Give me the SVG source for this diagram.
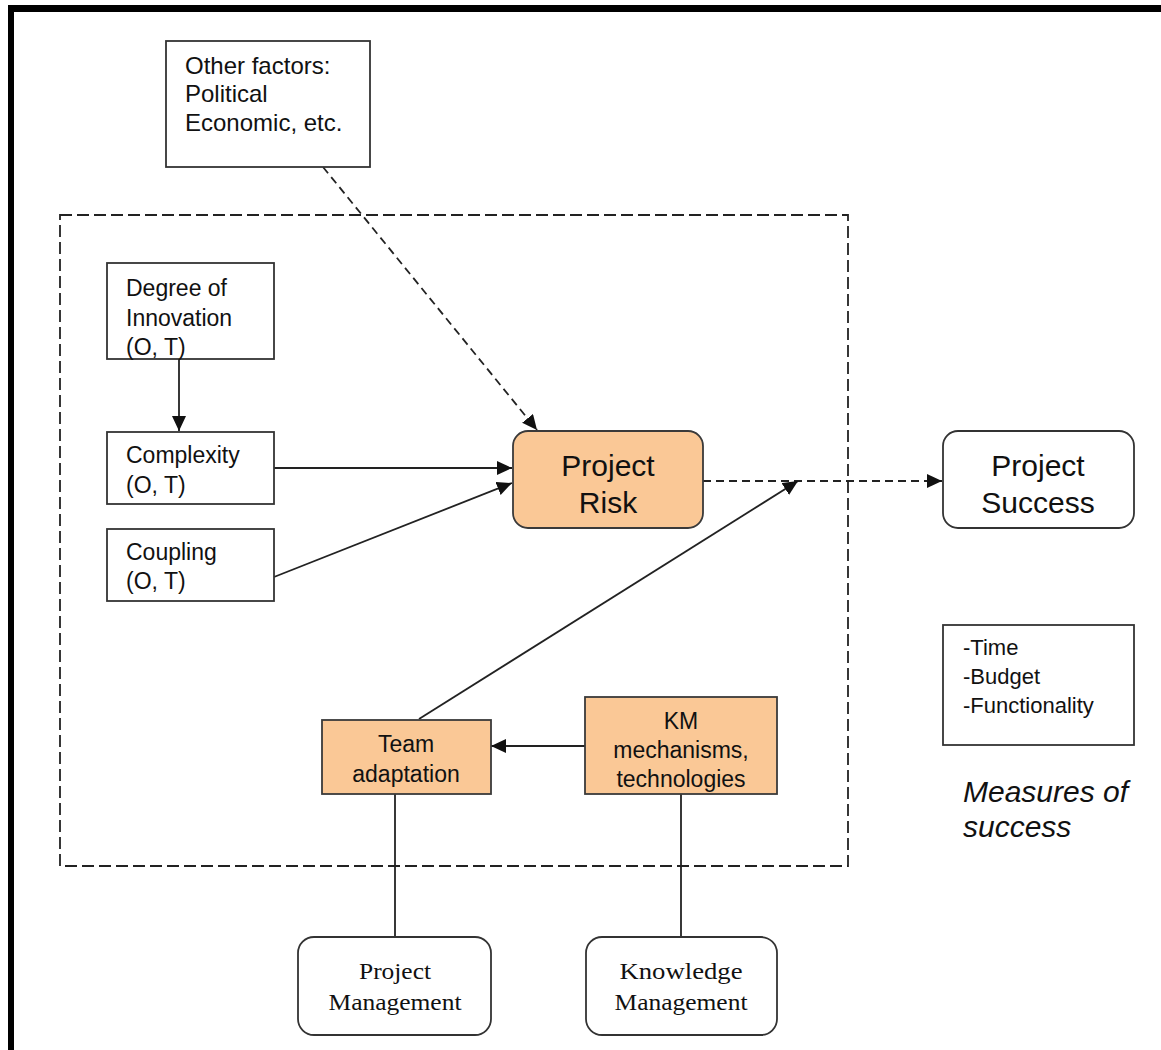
<svg xmlns="http://www.w3.org/2000/svg" width="1161" height="1050" viewBox="0 0 1161 1050">
  <style>
    .box { fill: #ffffff; stroke: #333333; stroke-width: 1.8; }
    .hot { fill: #FAC896; stroke: #3a3a3a; stroke-width: 1.8; }
    .sans { font-family: "Liberation Sans", Arial, sans-serif; fill: #111111; }
    .serif { font-family: "Liberation Serif", "Times New Roman", serif; fill: #111111; }
    .edge { fill: none; stroke: #222222; stroke-width: 1.8; }
    .dash { stroke-dasharray: 8 5; }
    .frame { fill: none; stroke: #222222; stroke-width: 1.8; stroke-dasharray: 12 5; }
  </style>
  <defs>
    <marker id="arrow" markerUnits="userSpaceOnUse" markerWidth="16" markerHeight="15" refX="15" refY="7" orient="auto">
      <path d="M0,0 L15,7 L0,14 z" fill="#111111"/>
    </marker>
  </defs>

  <rect width="1161" height="1050" fill="#ffffff"/>

  <!-- page border (top and left) -->
  <rect x="8" y="5" width="1153" height="7" fill="#000000"/>
  <rect x="8" y="5" width="6" height="1045" fill="#000000"/>

  <!-- boundary of the project context -->
  <g id="context-boundary">
    <rect class="frame" x="60" y="215" width="788" height="651"/>
  </g>

  <g id="connectors">
    <line class="edge dash" x1="323" y1="167" x2="537" y2="430" marker-end="url(#arrow)"/>
    <line class="edge" x1="179" y1="359" x2="179" y2="431" marker-end="url(#arrow)"/>
    <line class="edge" x1="274" y1="468" x2="512" y2="468" marker-end="url(#arrow)"/>
    <line class="edge" x1="274" y1="577" x2="512" y2="483" marker-end="url(#arrow)"/>
    <line class="edge dash" x1="703" y1="481" x2="942" y2="481" marker-end="url(#arrow)"/>
    <line class="edge" x1="419" y1="719" x2="798" y2="481" marker-end="url(#arrow)"/>
    <line class="edge" x1="585" y1="746" x2="491" y2="746" marker-end="url(#arrow)"/>
    <line class="edge" x1="395" y1="794" x2="395" y2="937"/>
    <line class="edge" x1="681" y1="794" x2="681" y2="937"/>
  </g>

  <g id="other-factors">
    <rect class="box" x="166" y="41" width="204" height="126"/>
    <text class="sans" font-size="24" x="185" y="74">Other factors:</text>
    <text class="sans" font-size="24" x="185" y="102">Political</text>
    <text class="sans" font-size="24" x="185" y="131">Economic, etc.</text>
  </g>

  <g id="degree-of-innovation">
    <rect class="box" x="107" y="263" width="167" height="96"/>
    <text class="sans" font-size="23" x="126" y="296">Degree of</text>
    <text class="sans" font-size="23" x="126" y="326">Innovation</text>
    <text class="sans" font-size="23" x="126" y="355">(O, T)</text>
  </g>

  <g id="complexity">
    <rect class="box" x="107" y="432" width="167" height="72"/>
    <text class="sans" font-size="23" x="126" y="463">Complexity</text>
    <text class="sans" font-size="23" x="126" y="493">(O, T)</text>
  </g>

  <g id="coupling">
    <rect class="box" x="107" y="529" width="167" height="72"/>
    <text class="sans" font-size="23" x="126" y="560">Coupling</text>
    <text class="sans" font-size="23" x="126" y="589">(O, T)</text>
  </g>

  <g id="project-risk">
    <rect class="hot" x="513" y="431" width="190" height="97" rx="15"/>
    <text class="sans" font-size="30" x="608" y="476" text-anchor="middle">Project</text>
    <text class="sans" font-size="30" x="608" y="513" text-anchor="middle">Risk</text>
  </g>

  <g id="project-success">
    <rect class="box" x="943" y="431" width="191" height="97" rx="15"/>
    <text class="sans" font-size="30" x="1038" y="476" text-anchor="middle">Project</text>
    <text class="sans" font-size="30" x="1038" y="513" text-anchor="middle">Success</text>
  </g>

  <g id="team-adaptation">
    <rect class="hot" x="322" y="720" width="169" height="74"/>
    <text class="sans" font-size="23" x="406" y="752" text-anchor="middle">Team</text>
    <text class="sans" font-size="23" x="406" y="782" text-anchor="middle">adaptation</text>
  </g>

  <g id="km-mechanisms">
    <rect class="hot" x="585" y="697" width="192" height="97"/>
    <text class="sans" font-size="23" x="681" y="729" text-anchor="middle">KM</text>
    <text class="sans" font-size="23" x="681" y="758" text-anchor="middle">mechanisms,</text>
    <text class="sans" font-size="23" x="681" y="787" text-anchor="middle">technologies</text>
  </g>

  <g id="project-management">
    <rect class="box" x="298" y="937" width="193" height="98" rx="16"/>
    <text class="serif" font-size="24" x="395" y="979" text-anchor="middle" textLength="72" lengthAdjust="spacingAndGlyphs">Project</text>
    <text class="serif" font-size="24" x="395" y="1010" text-anchor="middle" textLength="133" lengthAdjust="spacingAndGlyphs">Management</text>
  </g>

  <g id="knowledge-management">
    <rect class="box" x="586" y="937" width="191" height="98" rx="16"/>
    <text class="serif" font-size="24" x="681" y="979" text-anchor="middle" textLength="123" lengthAdjust="spacingAndGlyphs">Knowledge</text>
    <text class="serif" font-size="24" x="681" y="1010" text-anchor="middle" textLength="133" lengthAdjust="spacingAndGlyphs">Management</text>
  </g>

  <g id="success-measures">
    <rect class="box" x="943" y="625" width="191" height="120"/>
    <text class="sans" font-size="22" x="963" y="655">-Time</text>
    <text class="sans" font-size="22" x="963" y="684">-Budget</text>
    <text class="sans" font-size="22" x="963" y="713">-Functionality</text>
  </g>

  <g id="measures-caption">
    <text class="sans" font-size="30" font-style="italic" x="963" y="802">Measures of</text>
    <text class="sans" font-size="30" font-style="italic" x="963" y="837">success</text>
  </g>
</svg>
